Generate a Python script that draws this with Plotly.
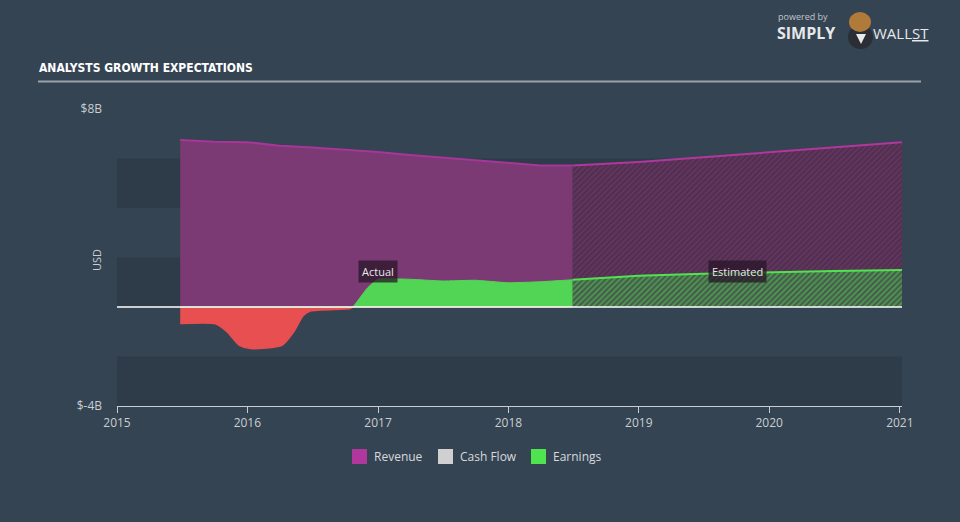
import plotly.graph_objects as go
import numpy as np

# ---------------- data ----------------
rev_act_x = ["2015-06-27", "2015-09-30", "2016-01-01", "2016-03-31", "2016-06-30",
             "2016-09-30", "2016-12-31", "2017-03-31", "2017-06-30", "2017-09-30",
             "2017-12-31", "2018-03-31", "2018-06-30"]
rev_act_y = [6.75, 6.68, 6.66, 6.52, 6.44, 6.36, 6.26, 6.14, 6.04, 5.93, 5.84, 5.72, 5.72]

rev_est_x = ["2018-06-30", "2019-01-01", "2019-07-01", "2020-01-01", "2020-07-01", "2021-01-07"]
rev_est_y = [5.72, 5.86, 6.05, 6.25, 6.45, 6.66]

earn_act_x = ["2015-06-27", "2015-10-04", "2015-11-05", "2015-12-10", "2016-01-10",
              "2016-04-07", "2016-05-10", "2016-06-05", "2016-06-25", "2016-10-15",
              "2016-10-22", "2016-12-01", "2016-12-31", "2017-03-31", "2017-06-30",
              "2017-09-30", "2017-12-31", "2018-03-31", "2018-06-30"]
earn_act_y = [-0.67, -0.68, -1.0, -1.55, -1.68, -1.55, -1.0, -0.35, -0.16, -0.06,
              0.0, 0.75, 1.12, 1.12, 1.05, 1.08, 0.98, 1.02, 1.1]

earn_est_x = ["2018-06-30", "2019-01-01", "2019-07-01", "2020-01-01", "2020-07-01", "2021-01-07"]
earn_est_y = [1.1, 1.26, 1.34, 1.4, 1.45, 1.49]

year_ticks = ["2015-01-01", "2016-01-01", "2017-01-01", "2018-01-01",
              "2019-01-01", "2020-01-01", "2021-01-01"]
year_labels = ["2015", "2016", "2017", "2018", "2019", "2020", "2021"]
y_tick_vals = [-4, 8]
y_tick_text = ["$-4B", "$8B"]
legend_names = ["Revenue", "Cash Flow", "Earnings"]
legend_colors = ["#b0379c", "#d0d0d0", "#4fe34f"]

# ---------------- style ----------------
BG = "#354452"
BAND = "#2e3b48"
TXT = "#c9ced3"
FONT = "Open Sans"

L, R, T, B = 117, 58, 109, 116
W, H = 960, 522
PW, PH = W - L - R, H - T - B


def px(xp):
    return (xp - L) / PW


def py(yp):
    return (H - B - yp) / PH


fig = go.Figure()

# revenue actual
fig.add_trace(go.Scatter(x=rev_act_x, y=rev_act_y, mode="lines", fill="tozeroy",
                         fillcolor="#7b3a74", line=dict(color="#a8359a", width=2),
                         showlegend=False, hoverinfo="skip"))
# revenue estimated (hatched)
fig.add_trace(go.Scatter(x=rev_est_x, y=rev_est_y, mode="lines", fill="tozeroy",
                         fillcolor="#4e2f4d",
                         fillpattern=dict(shape="/", bgcolor="#4e2f4d", fgcolor="#7b3a74",
                                          size=4, solidity=0.5),
                         line=dict(color="#b0379c", width=2),
                         showlegend=False, hoverinfo="skip"))

ea = np.array(earn_act_y)
# earnings actual negative (red)
fig.add_trace(go.Scatter(x=earn_act_x, y=np.minimum(ea, 0), mode="lines", fill="tozeroy",
                         fillcolor="#e84f50", line=dict(color="#e84f50", width=1.5,
                                                        shape="spline", smoothing=0.6),
                         showlegend=False, hoverinfo="skip"))
# earnings actual positive (green)
fig.add_trace(go.Scatter(x=earn_act_x, y=np.maximum(ea, 0), mode="lines", fill="tozeroy",
                         fillcolor="#52d555", line=dict(color="#52d555", width=1,
                                                        shape="spline", smoothing=0.4),
                         showlegend=False, hoverinfo="skip"))
# earnings estimated (hatched)
fig.add_trace(go.Scatter(x=earn_est_x, y=earn_est_y, mode="lines", fill="tozeroy",
                         fillcolor="#445a4a",
                         fillpattern=dict(shape="/", bgcolor="#445a4a", fgcolor="#58d058",
                                          size=4, solidity=0.5),
                         line=dict(color="#4fe34f", width=2),
                         showlegend=False, hoverinfo="skip"))

# background bands
shapes = []
for y0, y1 in [(4, 6), (0, 2), (-4, -2)]:
    shapes.append(dict(type="rect", xref="x", yref="y", x0="2015-01-01", x1="2021-01-07",
                       y0=y0, y1=y1, fillcolor=BAND, line_width=0, layer="below"))
# zero line
shapes.append(dict(type="line", xref="paper", yref="y", x0=0, x1=1, y0=0, y1=0,
                   line=dict(color="#ffffff", width=1.5), layer="above"))
# title underline
shapes.append(dict(type="line", xref="paper", yref="paper", x0=px(38), x1=px(921),
                   y0=py(81.5), y1=py(81.5), line=dict(color="#9aa1a9", width=2)))
# logo bull (simple)
shapes.append(dict(type="circle", xref="paper", yref="paper", x0=px(848), x1=px(873),
                   y0=py(49), y1=py(25), fillcolor="#2b2f35", line_width=0))
shapes.append(dict(type="path", xref="paper", yref="paper",
                   path=f"M {px(856)} {py(34)} L {px(861)} {py(44)} L {px(866)} {py(34)} Z",
                   fillcolor="#e9e9e9", line_width=0))
shapes.append(dict(type="circle", xref="paper", yref="paper", x0=px(849), x1=px(871),
                   y0=py(32), y1=py(12), fillcolor="#b07a3a", line_width=0))

annotations = [
    dict(text="<b>ANALYSTS GROWTH EXPECTATIONS</b>", xref="paper", yref="paper",
         x=px(37), y=py(68), xanchor="left", yanchor="middle", showarrow=False,
         font=dict(family="DejaVu Sans Condensed, Liberation Sans Narrow, Roboto, sans-serif",
                   size=12, color="#ffffff")),
    dict(text="powered by", xref="paper", yref="paper", x=px(776), y=py(16),
         xanchor="left", yanchor="middle", showarrow=False,
         font=dict(family=FONT, size=9, color="#c0c5ca")),
    dict(text="<b>SIMPLY</b>", xref="paper", yref="paper", x=px(775), y=py(33),
         xanchor="left", yanchor="middle", showarrow=False,
         font=dict(family=FONT, size=16, color="#e6e8ea")),
    dict(text="WALL<u>ST</u>", xref="paper", yref="paper", x=px(871), y=py(33),
         xanchor="left", yanchor="middle", showarrow=False,
         font=dict(family=FONT, size=15, color="#e6e8ea")),
    dict(text="USD", xref="paper", yref="paper", x=px(96), y=py(260), textangle=-90,
         xanchor="center", yanchor="middle", showarrow=False,
         font=dict(family=FONT, size=11, color=TXT)),
    dict(text="Actual", xref="x", yref="y", x="2017-01-01", y=1.43, showarrow=False,
         bgcolor="rgba(40,22,40,0.75)", borderpad=3,
         font=dict(family=FONT, size=11, color="#e8e8e8")),
    dict(text="Estimated", xref="x", yref="y", x="2019-10-05", y=1.43, showarrow=False,
         bgcolor="rgba(40,22,40,0.75)", borderpad=3,
         font=dict(family=FONT, size=11, color="#e8e8e8")),
]

# custom legend (squares + text)
leg_sq_x = [352, 438, 531]
for name, col, x0 in zip(legend_names, legend_colors, leg_sq_x):
    shapes.append(dict(type="rect", xref="paper", yref="paper", x0=px(x0), x1=px(x0 + 15),
                       y0=py(464), y1=py(449), fillcolor=col, line_width=0))
    annotations.append(dict(text=name, xref="paper", yref="paper", x=px(x0 + 20), y=py(456.5),
                            xanchor="left", yanchor="middle", showarrow=False,
                            font=dict(family=FONT, size=12, color="#d6dade")))

fig.update_layout(
    width=W, height=H,
    margin=dict(l=L, r=R, t=T, b=B),
    paper_bgcolor=BG, plot_bgcolor=BG,
    font=dict(family=FONT, color=TXT, size=12),
    shapes=shapes, annotations=annotations,
    showlegend=False,
    xaxis=dict(type="date", range=["2015-01-01", "2021-01-07"], tickvals=year_ticks,
               ticktext=year_labels, showgrid=False, zeroline=False, showline=True,
               linecolor="#c8ccd0", linewidth=1, ticks="outside", ticklen=6,
               tickcolor="#c8ccd0", tickfont=dict(size=12, color=TXT)),
    yaxis=dict(range=[-4, 8], tickvals=y_tick_vals, ticktext=y_tick_text, showgrid=False,
               zeroline=False, showline=False, ticks="", ticklabelstandoff=14,
               tickfont=dict(size=12, color=TXT)),
)

fig.write_html("out.html")
